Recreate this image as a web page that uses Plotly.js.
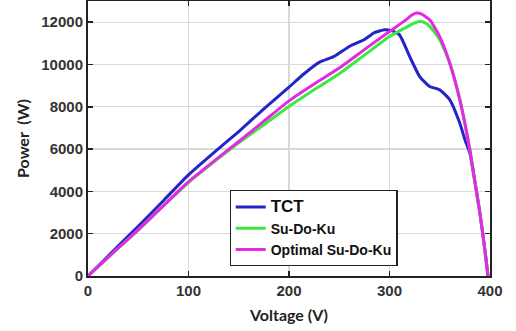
<!DOCTYPE html>
<html><head><meta charset="utf-8">
<script src="https://cdn.plot.ly/plotly-3.0.1.min.js"></script>
<style>html,body{margin:0;padding:0;background:#fff}#chart{width:516px;height:331px}</style>
</head><body><div id="chart"></div>
<script>
const tctV = [0, 25, 50, 75, 100, 125, 150, 175, 200, 215, 230, 245, 260, 275, 285, 295, 302, 310, 320, 330, 340, 350, 360, 370, 375, 380, 385, 390, 395, 398];
const tctP = [0, 1180, 2350, 3560, 4780, 5820, 6830, 7900, 8930, 9560, 10100, 10380, 10850, 11180, 11500, 11640, 11600, 11400, 10380, 9430, 8960, 8800, 8330, 7220, 6450, 5800, 4450, 2960, 1200, 0];

const sdkV = [0, 25, 50, 75, 100, 125, 150, 175, 200, 225, 250, 275, 300, 315, 325, 330, 335, 340, 350, 360, 370, 380, 385, 390, 395, 398];
const sdkP = [0, 1100, 2180, 3320, 4420, 5380, 6300, 7150, 8010, 8800, 9560, 10440, 11320, 11720, 11960, 12030, 11980, 11800, 11170, 10060, 8330, 5960, 4450, 2960, 1200, 0];

const optV = [0, 25, 50, 75, 100, 125, 150, 175, 200, 225, 250, 275, 300, 315, 322, 327, 332, 340, 350, 360, 370, 380, 385, 390, 395, 398];
const optP = [0, 1100, 2180, 3320, 4460, 5420, 6360, 7320, 8280, 9080, 9830, 10700, 11560, 12060, 12330, 12430, 12380, 12110, 11320, 10060, 8330, 5960, 4450, 2960, 1200, 0];

const seriesNames = ["TCT", "Su-Do-Ku", "Optimal Su-Do-Ku"];
const xTicks = [0, 100, 200, 300, 400];
const yTicks = [0, 2000, 4000, 6000, 8000, 10000, 12000];

const colors = ["#2424c8", "#3ee83e", "#e428e4"];
const traces = [
  {x: tctV, y: tctP, name: "<span style='font-size:17px'>" + seriesNames[0] + "</span>"},
  {x: sdkV, y: sdkP, name: seriesNames[1]},
  {x: optV, y: optP, name: seriesNames[2]}
].map((t, i) => Object.assign(t, {type: "scatter", mode: "lines", line: {color: colors[i], width: 3, shape: "spline", smoothing: 0.5}}));

const axisCommon = {
  showline: true, linecolor: "#222", linewidth: 2, mirror: "ticks",
  ticks: "inside", ticklen: 5, tickcolor: "#222", tickwidth: 1.5,
  showgrid: true, gridcolor: "#d9d9d9", gridwidth: 1.2, zeroline: false,
  tickfont: {family: "Liberation Sans, Arial, sans-serif", size: 15, color: "#333", weight: "bold"}
};

const layout = {
  width: 516, height: 331,
  margin: {l: 88, r: 26, t: 1, b: 55},
  paper_bgcolor: "#fff", plot_bgcolor: "#fff",
  showlegend: true,
  legend: {x: 0.352, y: 0.312, xanchor: "left", yanchor: "top", bgcolor: "#fff", bordercolor: "#222", borderwidth: 1.2,
    font: {family: "Liberation Sans, Arial, sans-serif", size: 14, color: "#111", weight: "bold"}, tracegroupgap: 0, itemwidth: 30},
  xaxis: Object.assign({}, axisCommon, {range: [0, 400], tickvals: xTicks, ticktext: xTicks.map(String),
    title: {text: "Voltage (V)", standoff: 12, font: {family: "Lato, sans-serif", size: 16, color: "#222", weight: "bold"}}}),
  yaxis: Object.assign({}, axisCommon, {range: [0, 13000], tickvals: yTicks, ticktext: yTicks.map(String),
    title: {text: "Power  (W)", standoff: 8, font: {family: "Lato, sans-serif", size: 16, color: "#222", weight: "bold"}}})
};

Plotly.newPlot("chart", traces, layout, {displayModeBar: false, staticPlot: true});
</script>
</body></html>
